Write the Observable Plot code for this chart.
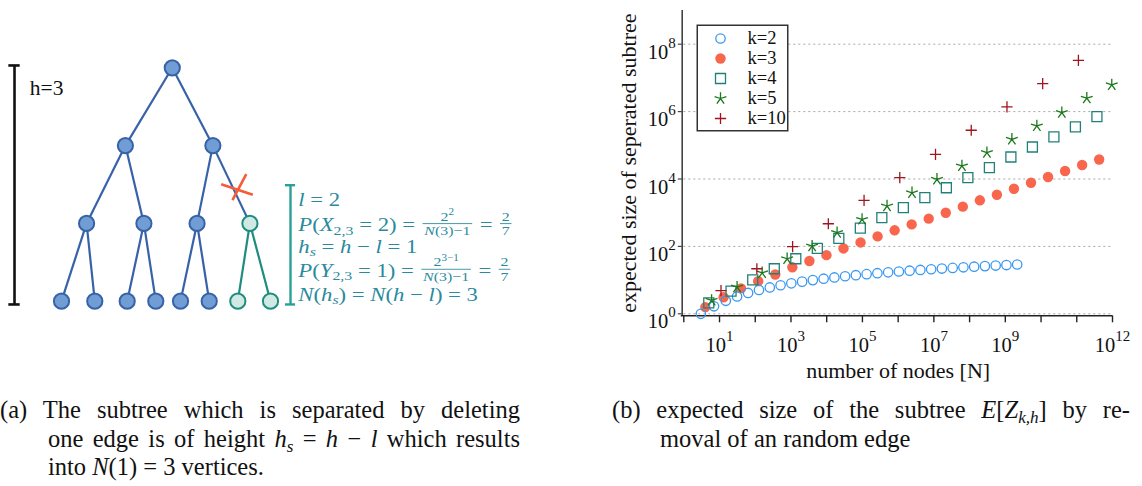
<!DOCTYPE html>
<html><head><meta charset="utf-8">
<script src="https://cdn.jsdelivr.net/npm/d3@7"></script>
<script src="https://cdn.jsdelivr.net/npm/@observablehq/plot@0.6"></script>
<style>
body{margin:0;background:#fff;}
#wrap{position:relative;width:1142px;height:486px;overflow:hidden;font-family:'Liberation Serif','DejaVu Serif',serif;}
#wrap > svg{position:absolute;}
</style></head><body><div id="wrap"></div>
<script>
// ---------------- data: right panel ----------------
const seriesNames = ["k=2", "k=3", "k=4", "k=5", "k=10"];
const nK2 = [3, 7, 15, 31, 63, 127, 255, 511, 1023, 2047, 4095, 8191, 16383, 32767, 65535, 131071, 262143, 524287, 1048575, 2097151, 4194303, 8388607, 16777215, 33554431, 67108863, 134217727, 268435455, 536870911, 1073741823, 2147483647];
const eK2 = [1, 1.67, 2.43, 3.27, 4.16, 5.10, 6.06, 7.03, 8.02, 9.01, 10.0, 11.0, 12.0, 13.0, 14.0, 15.0, 16.0, 17.0, 18.0, 19.0, 20.0, 21.0, 22.0, 23.0, 24.0, 25.0, 26.0, 27.0, 28.0, 29.0];
const nK3 = [4, 13, 40, 121, 364, 1093, 3280, 9841, 29524, 88573, 265720, 797161, 2391484, 7174453, 21523360, 64570081, 193710244, 581130733, 1743392200, 5230176601, 15690529804, 47071589413, 141214768240, 423644304721];
const eK3 = [1.58, 3.1, 5.7, 9.3, 14.7, 24, 37, 55, 87, 131, 198, 300, 450, 665, 1000, 1510, 2330, 3400, 5130, 7760, 11500, 17300, 26000, 38000];
const nK4 = [5, 21, 85, 341, 1365, 5461, 21845, 87381, 349525, 1398101, 5592405, 22369621, 89478485, 357913941, 1431655765, 5726623061, 22906492245, 91625968981, 366503875925];
const eK4 = [2.1, 4.7, 10.2, 21.7, 43, 87, 173, 349, 710, 1410, 2800, 5500, 11000, 21800, 45000, 89000, 178000, 350000, 710000];
const nK5 = [6, 31, 156, 781, 3906, 19531, 97656, 488281, 2441406, 12207031, 61035156, 305175781, 1525878906, 7629394531, 38146972656, 190734863281, 953674316406];
const eK5 = [2.5, 6.2, 16.5, 43, 102, 256, 630, 1580, 3900, 9800, 24400, 60500, 151000, 375000, 935000, 2500000, 6200000];
const nK10 = [11, 111, 1111, 11111, 111111, 1111111, 11111111, 111111111, 1111111111, 11111111111, 111111111111];
const eK10 = [4.9, 21.7, 98, 470, 2330, 11000, 54000, 280000, 1380000, 6800000, 33000000];
const xTickExps = [0,1,2,3,4,5,6,7,8,9,10,11,12];
const xLabelExps = [1,3,5,7,9,12];
const yTickExps = [0,2,4,6,8];
const xTitle = "number of nodes [N]";
const yTitle = "expected size of seperated subtree";

// ---------------- data: left panel (tree) ----------------
const nodeDepth  = [0, 1, 1, 2, 2, 2, 2, 3, 3, 3, 3, 3, 3, 3, 3];
const nodeParent = [-1, 0, 0, 1, 1, 2, 2, 3, 3, 4, 4, 5, 5, 6, 6];
const nodePos    = [3.71, 2.14, 5.07, 0.84, 2.76, 4.54, 6.31, 0, 1.115, 2.2, 3.158, 3.986, 4.947, 5.905, 7.0];
const nodeSeparated = [0, 0, 0, 0, 0, 0, 1, 0, 0, 0, 0, 0, 0, 1, 1];
const heightLabel = "h=3";

// ---------------- layout / style config ----------------
const FONT = "'Liberation Serif','DejaVu Serif',serif";
const svgNS = "http://www.w3.org/2000/svg";
function svgEl(tag, attrs = {}) { const e = document.createElementNS(svgNS, tag); for (const k in attrs) e.setAttribute(k, attrs[k]); return e; }
const wrap = document.getElementById("wrap");
function place(svg, left, top) { svg.style.left = left + "px"; svg.style.top = top + "px"; wrap.appendChild(svg); }
const NB = s => s.replace(/ /g, "\u00a0");

// custom symbols
const sqSym = {draw(c, size) { const r = Math.sqrt(size / Math.PI); c.rect(-r, -r, 2 * r, 2 * r); }};
const plusSym = {draw(c, size) { const r = Math.sqrt(size / Math.PI); c.moveTo(-r, 0); c.lineTo(r, 0); c.moveTo(0, -r); c.lineTo(0, r); }};
const starSym = {draw(c, size) { const r = Math.sqrt(size / Math.PI); for (let k = 0; k < 5; k++) { const a = -Math.PI / 2 + k * 2 * Math.PI / 5; c.moveTo(0, 0); c.lineTo(r * Math.cos(a), r * Math.sin(a)); } }};
const crossSym = {draw(c) { c.moveTo(8.3, -15.8); c.lineTo(-5.5, 10.2); c.moveTo(-16.8, -5.8); c.lineTo(14.8, 4.9); }};

const series = [
  {name: seriesNames[0], N: nK2, E: eK2, color: "#3a98f2", symbol: "circle", filled: false, r: 4.7},
  {name: seriesNames[1], N: nK3, E: eK3, color: "#f8674d", symbol: "circle", filled: true, r: 5.2},
  {name: seriesNames[2], N: nK4, E: eK4, color: "#22807a", symbol: sqSym, filled: false, r: 5},
  {name: seriesNames[3], N: nK5, E: eK5, color: "#1b781b", symbol: starSym, filled: false, r: 6.2},
  {name: seriesNames[4], N: nK10, E: eK10, color: "#a1141e", symbol: plusSym, filled: false, r: 5.6}
];
const drawOrder = [1, 0, 2, 3, 4];

function dotMark(s, data, x, y) {
  return Plot.dot(data, {x, y, symbol: s.symbol, r: s.r,
    fill: s.filled ? s.color : "none", stroke: s.filled ? "none" : s.color, strokeWidth: 1.3});
}

// ---------------- right chart ----------------
const expFmt = d => "10^" + Math.round(Math.log10(d));
const chart = Plot.plot({
  width: 542, height: 390,
  marginLeft: 83.3, marginRight: 30, marginTop: 10, marginBottom: 74.7,
  x: {type: "log", domain: [1, 1e12], range: [83.3, 512], axis: null},
  y: {type: "log", domain: [1, 1e9], range: [313.3, 10], axis: null},
  style: {fontFamily: FONT, fontSize: "20px", background: "transparent", overflow: "visible", color: "#111"},
  marks: [
    Plot.ruleY(yTickExps.map(e => 10 ** e), {y: d => d, stroke: "#a8a8a8", strokeDasharray: "2,3", strokeWidth: 1}),
    Plot.ruleX([1], {x: d => d, dx: -1.6, stroke: "#444", strokeWidth: 1.6}),
    Plot.ruleY([1], {y: d => d, dy: 2, insetLeft: -2.5, stroke: "#222", strokeWidth: 1.4}),
    Plot.ruleX(xTickExps.map(e => 10 ** e), {x: d => d, y1: 1, y2: 1, insetTop: 2, insetBottom: -9, stroke: "#222", strokeWidth: 1.4}),
    Plot.ruleY(yTickExps.map(e => 10 ** e), {y: d => d, x1: 1, x2: 1, insetLeft: -5.5, insetRight: 1.5, stroke: "#444", strokeWidth: 1.2}),
    ...drawOrder.map(i => { const s = series[i]; return dotMark(s, s.N.map((n, j) => ({n, e: s.E[j]})), "n", "e"); }),
    Plot.text(xLabelExps.map(e => 10 ** e), {x: d => d, y: 1, text: expFmt, textAnchor: "middle", lineAnchor: "bottom", dy: 38.4, fontSize: 20.5, fill: "#111"}),
    Plot.text(yTickExps.map(e => 10 ** e), {x: 1, y: d => d, text: expFmt, textAnchor: "end", lineAnchor: "bottom", dx: -8, dy: 14.5, fontSize: 20.5, fill: "#111"}),
    Plot.text([yTitle], {text: d => d, frameAnchor: "left", textAnchor: "middle", rotate: -90, lineAnchor: "bottom", dx: -48, fontSize: 22, fill: "#111"}),
    Plot.text([xTitle], {text: d => d, frameAnchor: "bottom", textAnchor: "middle", lineAnchor: "bottom", dy: 62, fontSize: 22, fill: "#111"})
  ]
});
chart.querySelectorAll("text").forEach(t => {
  const m = /^10\^(\d+)$/.exec(t.textContent);
  if (!m) return;
  t.textContent = "10";
  const ts = svgEl("tspan", {dy: -11, "font-size": 15});
  ts.textContent = m[1];
  t.appendChild(ts);
});
place(chart, 600, 0);

// legend
const legend = Plot.plot({
  width: 92, height: 107, margin: 0,
  x: {domain: [0, 1], range: [24, 51], axis: null},
  y: {type: "point", domain: seriesNames, range: [12, 95.5], padding: 0, axis: null},
  style: {fontFamily: FONT, fontSize: "18px", background: "#fff", overflow: "visible"},
  marks: [
    Plot.frame({stroke: "#333", strokeWidth: 1.5, inset: 0.75}),
    ...series.map(s => dotMark(s, [s.name], () => 0, d => d)),
    Plot.text(seriesNames, {x: () => 1, y: d => d, text: d => d, textAnchor: "start", fontSize: 18.5, fill: "#111"})
  ]
});
place(legend, 696, 24);

// ---------------- left tree ----------------
const nodes = nodeDepth.map((d, i) => ({i, depth: d, pos: nodePos[i], sep: nodeSeparated[i]}));
const edges = nodes.filter(n => nodeParent[n.i] >= 0).map(n => {
  const p = nodes[nodeParent[n.i]];
  return {x1: p.pos, y1: p.depth, x2: n.pos, y2: n.depth, sep: p.sep, cut: !p.sep && n.sep};
});
const cutEdge = edges.find(e => e.cut);
const cutT = 0.57;
const cutPoint = {x: cutEdge.x1 + cutT * (cutEdge.x2 - cutEdge.x1), y: cutEdge.y1 + cutT * (cutEdge.y2 - cutEdge.y1)};
const anno = {hBarX: -1.574, hTop: -0.03, hBot: 3.042, hCap: 0.19, bX: 7.67, bTop: 1.509, bBot: 3.042, bCap: 0.17, hLabX: -1.06, hLabY: 0.356};
const BLUE_E = "#3862a8", BLUE_F = "#709dd4", TEAL_E = "#1f8c80", TEAL_F = "#d0e9e3", TEAL_B = "#2aa096";

const tree = Plot.plot({
  width: 560, height: 390, margin: 0,
  x: {domain: [0, 7], range: [61, 270], axis: null},
  y: {domain: [0, 3], range: [67.3, 300.7], axis: null},
  style: {fontFamily: FONT, fontSize: "20px", background: "transparent", overflow: "visible"},
  marks: [
    Plot.ruleX([anno.hBarX], {x: d => d, y1: anno.hTop, y2: anno.hBot, stroke: "#111", strokeWidth: 2.6}),
    Plot.ruleY([anno.hTop, anno.hBot], {y: d => d, x1: anno.hBarX - anno.hCap, x2: anno.hBarX + anno.hCap, stroke: "#111", strokeWidth: 2.6}),
    Plot.text([heightLabel], {x: anno.hLabX, y: anno.hLabY, text: d => d, textAnchor: "start", lineAnchor: "bottom", fontSize: 21.5, fill: "#111"}),
    Plot.link(edges.filter(e => !e.sep), {x1: "x1", y1: "y1", x2: "x2", y2: "y2", stroke: BLUE_E, strokeWidth: 2.2}),
    Plot.link(edges.filter(e => e.sep), {x1: "x1", y1: "y1", x2: "x2", y2: "y2", stroke: TEAL_E, strokeWidth: 2.2}),
    Plot.dot(nodes.filter(n => !n.sep), {x: "pos", y: "depth", r: 7.6, fill: BLUE_F, stroke: BLUE_E, strokeWidth: 2}),
    Plot.dot(nodes.filter(n => n.sep), {x: "pos", y: "depth", r: 7.6, fill: TEAL_F, stroke: TEAL_E, strokeWidth: 2}),
    Plot.dot([cutPoint], {x: "x", y: "y", dx: 4, symbol: crossSym, r: 5, fill: "none", stroke: "#f55c38", strokeWidth: 2.6}),
    Plot.ruleX([anno.bX], {x: d => d, y1: anno.bTop, y2: anno.bBot, stroke: TEAL_B, strokeWidth: 2.4}),
    Plot.ruleY([anno.bTop, anno.bBot], {y: d => d, x1: anno.bX - anno.bCap, x2: anno.bX + anno.bCap, stroke: TEAL_B, strokeWidth: 2.4})
  ]
});
place(tree, 0, 0);

// teal math annotation
const mathLines = [
  [{t: "l", i: 1}, {t: " = 2"}],
  [{t: "P", i: 1}, {t: "("}, {t: "X", i: 1}, {t: "2,3", sub: 1}, {t: " = 2) = "}, {frac: [[{t: "2"}, {t: "2", sup: 1}], [{t: "N", i: 1}, {t: "(3)−1"}]]}, {t: " = "}, {frac: [[{t: "2"}], [{t: "7"}]]}],
  [{t: "h", i: 1}, {t: "s", i: 1, sub: 1}, {t: " = "}, {t: "h", i: 1}, {t: " − "}, {t: "l", i: 1}, {t: " = 1"}],
  [{t: "P", i: 1}, {t: "("}, {t: "Y", i: 1}, {t: "2,3", sub: 1}, {t: " = 1) = "}, {frac: [[{t: "2"}, {t: "3−1", sup: 1}], [{t: "N", i: 1}, {t: "(3)−1"}]]}, {t: " = "}, {frac: [[{t: "2"}], [{t: "7"}]]}],
  [{t: "N", i: 1}, {t: "("}, {t: "h", i: 1}, {t: "s", i: 1, sub: 1}, {t: ") = "}, {t: "N", i: 1}, {t: "("}, {t: "h", i: 1}, {t: " − "}, {t: "l", i: 1}, {t: ") = 3"}]
];
const MATH_COLOR = "#2a8a9c";
function layoutMath(parent, tokens, fs) {
  const g = svgEl("g"); parent.appendChild(g);
  let cx = 0;
  for (const tk of tokens) {
    if (tk.frac) {
      const f = fs * 0.7;
      const n = layoutMath(g, tk.frac[0], f), d = layoutMath(g, tk.frac[1], f);
      const w = Math.max(n.w, d.w) + 3;
      cx += 1.5;
      n.g.setAttribute("transform", `translate(${cx + (w - n.w) / 2},${-fs * 0.55})`);
      d.g.setAttribute("transform", `translate(${cx + (w - d.w) / 2},${fs * 0.2})`);
      g.appendChild(svgEl("line", {x1: cx, x2: cx + w, y1: -fs * 0.39, y2: -fs * 0.39, stroke: MATH_COLOR, "stroke-width": 0.8}));
      cx += w + 1.5;
    } else {
      const size = (tk.sub || tk.sup) ? fs * 0.7 : fs;
      const y = tk.sub ? fs * 0.19 : tk.sup ? -fs * 0.42 : 0;
      const t = svgEl("text", {x: cx, y, "font-size": size, fill: MATH_COLOR, "font-style": tk.i ? "italic" : "normal", "text-anchor": "start"});
      t.textContent = NB(tk.t);
      g.appendChild(t);
      cx += t.getComputedTextLength();
    }
  }
  return {g, w: cx};
}
const mathBase = [205.7, 231, 252.7, 276.7, 300.7];
const mathG = svgEl("g", {"font-family": FONT, "text-anchor": "start"});
tree.appendChild(mathG);
const laid = mathLines.map(l => layoutMath(mathG, l, 19));
const sx = 215 / laid[1].w;
laid.forEach((L, k) => L.g.setAttribute("transform", `translate(298.3,${mathBase[k]}) scale(${sx},1)`));

// ---------------- captions ----------------
const capLines = [
  {x: 0, y: 38, justify: 520, segs: [["(a) The subtree which is separated by deleting"]]},
  {x: 48, y: 67, justify: 520, segs: [["one edge is of height "], ["h", "i"], ["s", "isub"], [" = "], ["h", "i"], [" − "], ["l", "i"], [" which results"]]},
  {x: 48, y: 95, segs: [["into "], ["N", "i"], ["(1) = 3 vertices."]]},
  {x: 612, y: 38, justify: 1130, segs: [["(b) expected size of the subtree "], ["E", "i"], ["["], ["Z", "i"], ["k,h", "isub"], ["] by re-"]]},
  {x: 660, y: 67, segs: [["moval of an random edge"]]}
];
const cap = svgEl("svg", {width: 1142, height: 106});
cap.style.fontFamily = FONT;
place(cap, 0, 380);
const CFS = 24.5;
for (const L of capLines) {
  const t = svgEl("text", {x: L.x, y: L.y, "font-size": CFS, fill: "#111"});
  t.setAttributeNS("http://www.w3.org/XML/1998/namespace", "xml:space", "preserve");
  cap.appendChild(t);
  let shifted = 0;
  for (const [s, st = ""] of L.segs) {
    const ts = svgEl("tspan");
    if (st.includes("i")) ts.setAttribute("font-style", "italic");
    let dy;
    if (st.includes("sub")) { ts.setAttribute("font-size", CFS * 0.7); dy = CFS * 0.22 - shifted; shifted = CFS * 0.22; }
    else { dy = -shifted; shifted = 0; }
    if (dy) ts.setAttribute("dy", dy);
    ts.textContent = s;
    t.appendChild(ts);
  }
  if (L.justify) {
    const len = t.getComputedTextLength();
    const spaces = (t.textContent.match(/ /g) || []).length;
    t.setAttribute("word-spacing", Math.max(0, (L.justify - L.x - len) / spaces));
  }
}
</script></body></html>
